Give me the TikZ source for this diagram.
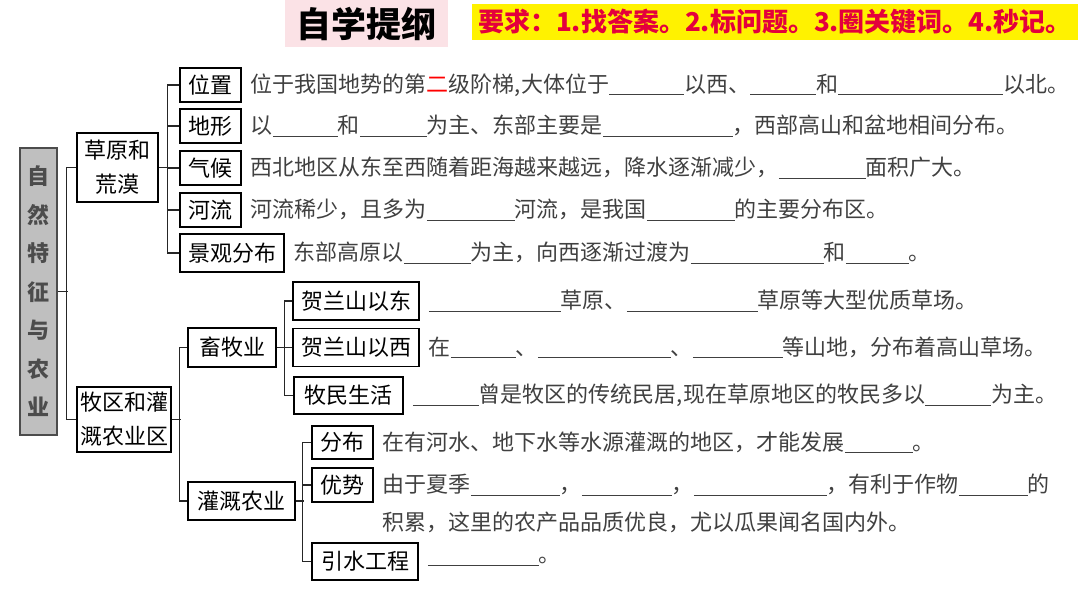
\documentclass[tikz,border=0pt]{standalone}
\usepackage{fontspec}
\setmainfont{Noto Sans CJK SC}
\usepackage{tikz}
\usetikzlibrary{positioning}
\definecolor{titlepink}{RGB}{251,226,230}
\definecolor{askred}{RGB}{228,0,60}
\definecolor{rootgray}{RGB}{191,191,191}
\newcommand{\blank}[1]{\rule[-3pt]{#1pt}{1pt}}
\tikzset{
  lblbox/.style={rectangle,draw=black,line width=1.5pt,fill=white,inner sep=0pt,
    align=center,text=black,font=\fontsize{22}{34}\selectfont},
  rowtext/.style={inner sep=0pt,text=black!75,font=\fontsize{22}{26}\selectfont},
  conn/.style={line width=1.3pt,draw=black!85},
}

\begin{document}
\begin{tikzpicture}[x=1pt,y=-1pt]
  \useasboundingbox (0,0) rectangle (1080,608);

  % title bar
  \node[fill=titlepink,minimum width=163pt,minimum height=47pt,inner sep=0pt,
        font=\fontsize{35}{40}\selectfont\bfseries] (title) at (366.5,23.5) {自学提纲};
  \node[fill=yellow,minimum width=606pt,minimum height=36pt,inner sep=0pt,
        text=askred,font=\fontsize{26}{30}\selectfont\bfseries] (ask) at (775,22)
    {要求：1.找答案。2.标问题。3.圈关键词。4.秒记。};

  % root
  \node[draw=black!70,line width=1.5pt,fill=rootgray,text=black!70,
        minimum width=37pt,minimum height=287pt,inner sep=0pt,align=center,
        font=\fontsize{22}{38.5}\selectfont\bfseries] (root) at (38.5,291.5)
    {自\\然\\特\\征\\与\\农\\业};

  % second level
  \node[lblbox,minimum width=81pt,minimum height=69pt] (cyhm) at (117.5,167.5) {草原和\\荒漠};
  \node[lblbox,minimum width=94pt,minimum height=65pt] (mqgg) at (124,419.5) {牧区和灌\\溉农业区};

  % grassland and desert
  \node[lblbox,minimum width=61pt,minimum height=34pt] (wz) at (210.5,85) {位置};
  \node[lblbox,minimum width=61pt,minimum height=34pt] (dx) at (210.5,126) {地形};
  \node[lblbox,minimum width=61pt,minimum height=34pt] (qh) at (210.5,168) {气候};
  \node[lblbox,minimum width=61pt,minimum height=34pt] (hl) at (210.5,210) {河流};
  \node[lblbox,minimum width=104pt,minimum height=38pt] (jgfb) at (232,253) {景观分布};

  \node[rowtext,right=9pt of wz] (wztxt)
    {位于我国地势的第{\color{red}二}级阶梯,大体位于\blank{75}以西、\blank{66}和\blank{165}以北。};
  \node[rowtext,right=9pt of dx] (dxtxt)
    {以\blank{65}和\blank{67}为主、东部主要是\blank{130}，西部高山和盆地相间分布。};
  \node[rowtext,right=9pt of qh] (qhtxt)
    {西北地区从东至西随着距海越来越远，降水逐渐减少，\blank{87}面积广大。};
  \node[rowtext,right=9pt of hl] (hltxt)
    {河流稀少，且多为\blank{88}河流，是我国\blank{88}的主要分布区。};
  \node[rowtext,right=9pt of jgfb] (jgtxt)
    {东部高原以\blank{67}为主，向西逐渐过渡为\blank{133}和\blank{63}。};

  % pasture
  \node[lblbox,minimum width=88pt,minimum height=39pt] (xmy) at (232,347.5) {畜牧业};
  \node[lblbox,minimum width=126pt,minimum height=38pt] (hlsd) at (356,301) {贺兰山以东};
  \node[lblbox,minimum width=126pt,minimum height=38pt] (hlsx) at (356,347.5) {贺兰山以西};
  \node[lblbox,minimum width=109pt,minimum height=37pt] (mmsh) at (348.5,395.5) {牧民生活};

  \node[rowtext,right=9pt of hlsd] (hlsdtxt)
    {\blank{132}草原、\blank{131}草原等大型优质草场。};
  \node[rowtext,right=9pt of hlsx] (hlsxtxt)
    {在\blank{65}、\blank{133}、\blank{90}等山地，分布着高山草场。};
  \node[rowtext,right=9pt of mmsh] (mmshtxt)
    {\blank{66}曾是牧区的传统民居,现在草原地区的牧民多以\blank{66}为主。};

  % irrigated farming
  \node[lblbox,minimum width=107pt,minimum height=38pt] (ggny) at (241.5,501) {灌溉农业};
  \node[lblbox,minimum width=61pt,minimum height=33pt] (fb) at (342.5,442.5) {分布};
  \node[lblbox,minimum width=61pt,minimum height=34pt] (ys) at (342.5,485) {优势};
  \node[lblbox,minimum width=106pt,minimum height=37pt] (ysgc) at (365,561.5) {引水工程};

  \node[rowtext,right=9pt of fb] (fbtxt)
    {在有河水、地下水等水源灌溉的地区，才能发展\blank{68}。};
  \node[rowtext,right=9pt of ys] (ystxt)
    {由于夏季\blank{89}，\blank{90}，\blank{133}，有利于作物\blank{69}的};
  \node[rowtext,anchor=west,yshift=-37pt] (ystxt2) at (ystxt.west)
    {积累，这里的农产品品质优良，尤以瓜果闻名国内外。};
  \node[rowtext,right=9pt of ysgc] (ysgctxt) {\blank{111}。};

  % brackets
  \draw[conn] (root.east) -- ++(10,0);
  \draw[conn] (cyhm.west) -- ++(-10,0) |- (mqgg.west);
  \draw[conn] (cyhm.east) -- ++(10,0);
  \draw[conn] (wz.west) -- ++(-12,0) |- (jgfb.west);
  \foreach \n in {dx,qh,hl} \draw[conn] (\n.west) -- ++(-12,0);
  \draw[conn] (mqgg.east) -- ++(9,0);
  \draw[conn] (xmy.west) -- ++(-8,0) |- (ggny.west);
  \draw[conn] (xmy.east) -- ++(9,0);
  \draw[conn] (hlsd.west) -- ++(-8,0) |- (mmsh.west);
  \draw[conn] (hlsx.west) -- ++(-8,0);
  \draw[conn] (ggny.east) -- ++(8,0);
  \draw[conn] (fb.west) -- ++(-9,0) |- (ysgc.west);
  \draw[conn] (ys.west) -- ++(-9,0);

\end{tikzpicture}
\end{document}
